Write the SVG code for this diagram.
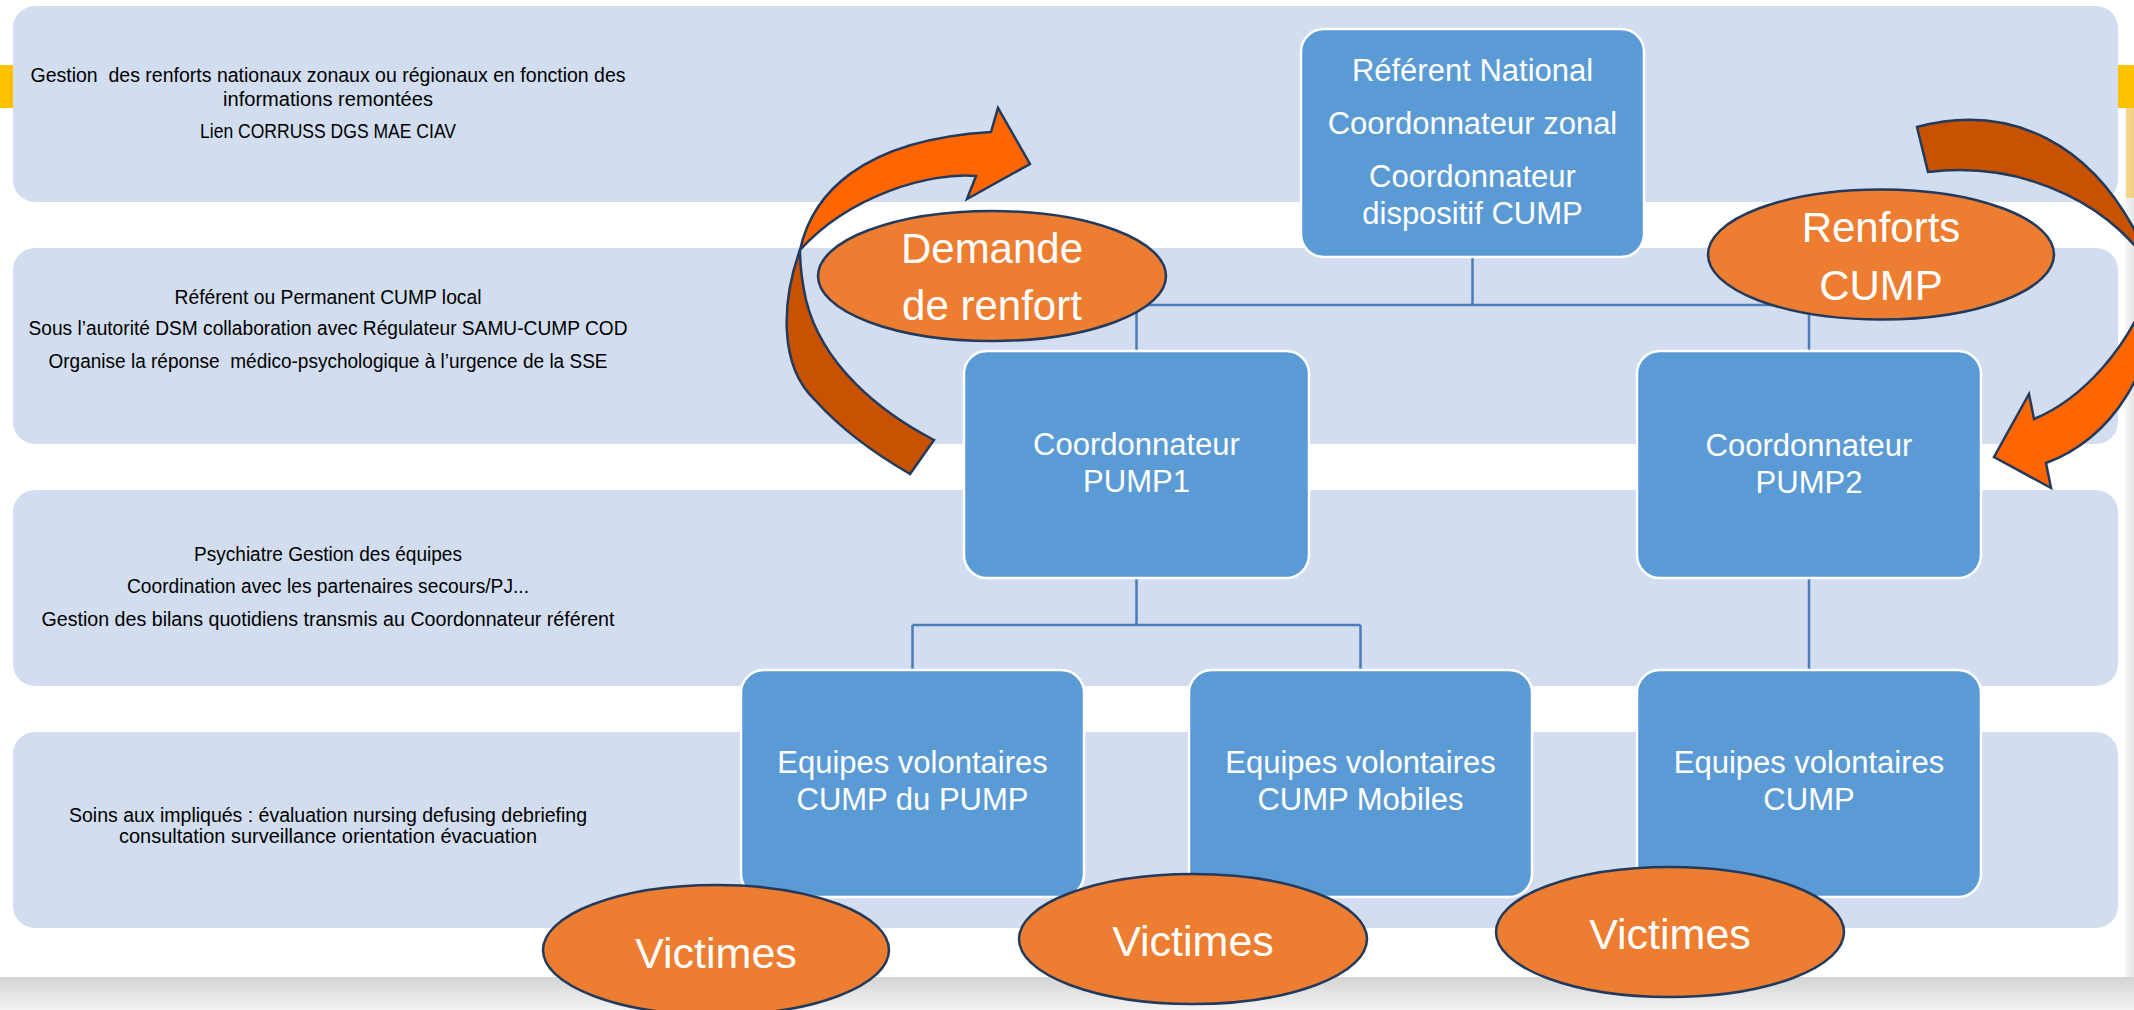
<svg xmlns="http://www.w3.org/2000/svg" width="2134" height="1010" viewBox="0 0 2134 1010">
<defs>
<style>
.band{fill:#D2DEEF}
.note{font-family:"Liberation Sans",Arial,sans-serif;font-size:19.5px;fill:#000;text-anchor:middle}
.box rect{fill:#5B9BD5;stroke:#FFFFFF;stroke-width:2.5}
.box text{font-family:"Liberation Sans",Arial,sans-serif;font-size:31px;fill:#FFFFFF;text-anchor:middle}
.oval ellipse{fill:#ED7D31;stroke:#223A5E;stroke-width:2.5}
.oval text{font-family:"Liberation Sans",Arial,sans-serif;font-size:42px;fill:#FFFFFF;text-anchor:middle}
.conn{fill:none;stroke:#4A7EBB;stroke-width:2.5}
.arr{stroke:#223A5E;stroke-width:2.5;stroke-linejoin:miter}
.front{fill:#FF6600}
.back{fill:#C85200}
</style>
<linearGradient id="shadowB" x1="0" y1="0" x2="0" y2="1">
<stop offset="0" stop-color="#D4D4D4"/>
<stop offset="1" stop-color="#F3F3F3"/>
</linearGradient>
<linearGradient id="shadowR" x1="0" y1="0" x2="1" y2="0">
<stop offset="0" stop-color="#F7F7F7"/>
<stop offset="1" stop-color="#E6E6E6"/>
</linearGradient>
</defs>

<rect x="0" y="0" width="2134" height="1010" fill="#FFFFFF"/>

<g id="frame">
<rect x="0" y="65" width="14" height="43" fill="#FFC000"/>
<rect x="2118" y="65" width="16" height="43" fill="#FFC000"/>
<rect x="2125" y="108" width="9" height="870" fill="url(#shadowR)"/>
<rect x="2126" y="108" width="8" height="90" fill="#F5C242" opacity="0.6"/>
<rect x="0" y="977" width="2134" height="33" fill="url(#shadowB)"/>
</g>

<g id="bands">
<rect class="band" x="13" y="6" width="2105" height="196" rx="22"/>
<rect class="band" x="13" y="248" width="2105" height="196" rx="22"/>
<rect class="band" x="13" y="490" width="2105" height="196" rx="22"/>
<rect class="band" x="13" y="732" width="2105" height="196" rx="22"/>
</g>

<g id="band-texts">
<text class="note" xml:space="preserve" x="328" y="82" textLength="595" lengthAdjust="spacingAndGlyphs">Gestion  des renforts nationaux zonaux ou régionaux en fonction des</text>
<text class="note" x="328" y="106" textLength="210" lengthAdjust="spacingAndGlyphs">informations remontées</text>
<text class="note" x="328" y="138" textLength="256" lengthAdjust="spacingAndGlyphs">Lien CORRUSS DGS MAE CIAV</text>
<text class="note" x="328" y="304" textLength="307" lengthAdjust="spacingAndGlyphs">Référent ou Permanent CUMP local</text>
<text class="note" x="328" y="335" textLength="599" lengthAdjust="spacingAndGlyphs">Sous l’autorité DSM collaboration avec Régulateur SAMU-CUMP COD</text>
<text class="note" xml:space="preserve" x="328" y="368" textLength="559" lengthAdjust="spacingAndGlyphs">Organise la réponse  médico-psychologique à l’urgence de la SSE</text>
<text class="note" x="328" y="561" textLength="268" lengthAdjust="spacingAndGlyphs">Psychiatre Gestion des équipes</text>
<text class="note" x="328" y="593" textLength="402" lengthAdjust="spacingAndGlyphs">Coordination avec les partenaires secours/PJ...</text>
<text class="note" x="328" y="626" textLength="573" lengthAdjust="spacingAndGlyphs">Gestion des bilans quotidiens transmis au Coordonnateur référent</text>
<text class="note" x="328" y="822" textLength="518" lengthAdjust="spacingAndGlyphs">Soins aux impliqués : évaluation nursing defusing debriefing</text>
<text class="note" x="328" y="843" textLength="418" lengthAdjust="spacingAndGlyphs">consultation surveillance orientation évacuation</text>
</g>

<g id="connectors">
<path class="conn" d="M1472.5,257 V305 M1136.5,305 H1809 M1136.5,305 V351 M1809,305 V351"/>
<path class="conn" d="M1136.5,578 V625 M912.5,625 H1360.5 M912.5,625 V670 M1360.5,625 V670"/>
<path class="conn" d="M1809,578 V670"/>
</g>

<g id="node-top" class="box">
<rect x="1301" y="29" width="343" height="228" rx="23"/>
<text x="1472.5" y="81">Référent National</text>
<text x="1472.5" y="134">Coordonnateur zonal</text>
<text x="1472.5" y="187">Coordonnateur</text>
<text x="1472.5" y="224">dispositif CUMP</text>
</g>
<g id="node-pump1" class="box">
<rect x="964" y="351" width="345" height="227" rx="23"/>
<text x="1136.5" y="455">Coordonnateur</text>
<text x="1136.5" y="492">PUMP1</text>
</g>
<g id="node-pump2" class="box">
<rect x="1637" y="351" width="344" height="227" rx="23"/>
<text x="1809" y="456">Coordonnateur</text>
<text x="1809" y="493">PUMP2</text>
</g>
<g id="node-equipes-pump" class="box">
<rect x="741" y="670" width="343" height="227" rx="23"/>
<text x="912.5" y="773">Equipes volontaires</text>
<text x="912.5" y="810">CUMP du PUMP</text>
</g>
<g id="node-equipes-mobiles" class="box">
<rect x="1189" y="670" width="343" height="227" rx="23"/>
<text x="1360.5" y="773">Equipes volontaires</text>
<text x="1360.5" y="810">CUMP Mobiles</text>
</g>
<g id="node-equipes-cump" class="box">
<rect x="1637" y="670" width="344" height="227" rx="23"/>
<text x="1809" y="773">Equipes volontaires</text>
<text x="1809" y="810">CUMP</text>
</g>

<g id="arrow-demande">
<path class="arr back" d="M800,250 C782,300 778,365 815,400 C840,428 872,452 910,474 L934,440 C880,412 822,365 806,300 C802,282 800,265 800,250 Z"/>
<path class="arr front" d="M800,250 C812,195 860,140 991,132 L998,108 L1030,164 L967,199 L976,176 C930,172 850,195 800,250 Z"/>
</g>
<g id="arrow-renforts">
<path class="arr back" d="M1917,127 C2000,105 2100,130 2155,275 C2120,210 2030,160 1928,172 Z"/>
<path class="arr front" d="M2155,275 C2160,370 2110,440 2046,463 L2051,488 L1994,457 L2029,394 L2034,419 C2080,400 2130,350 2155,275 Z"/>
</g>

<g id="oval-demande" class="oval">
<ellipse cx="992" cy="276" rx="174" ry="65"/>
<text x="992" y="263">Demande</text>
<text x="992" y="320">de renfort</text>
</g>
<g id="oval-renforts" class="oval">
<ellipse cx="1881" cy="254.5" rx="173" ry="65"/>
<text x="1881" y="242">Renforts</text>
<text x="1881" y="300">CUMP</text>
</g>
<g id="oval-victimes-1" class="oval">
<ellipse cx="716" cy="950" rx="173" ry="65"/>
<text x="716" y="968" style="font-size:43px">Victimes</text>
</g>
<g id="oval-victimes-2" class="oval">
<ellipse cx="1193" cy="939" rx="174" ry="65"/>
<text x="1193" y="956" style="font-size:43px">Victimes</text>
</g>
<g id="oval-victimes-3" class="oval">
<ellipse cx="1670" cy="932" rx="174" ry="65"/>
<text x="1670" y="949" style="font-size:43px">Victimes</text>
</g>
</svg>
